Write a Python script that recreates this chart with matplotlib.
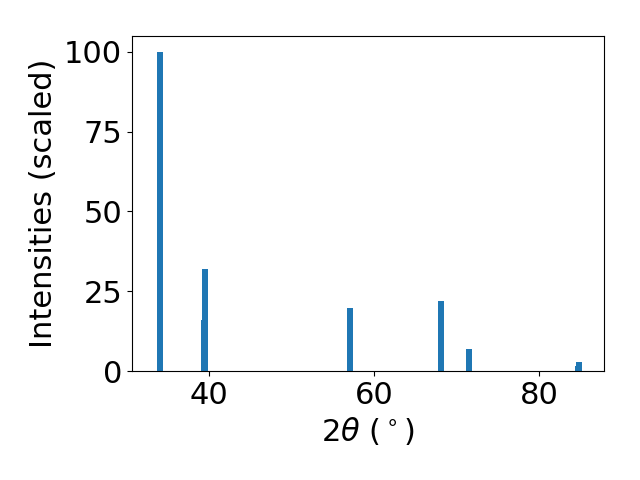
import matplotlib
matplotlib.use("Agg")
import matplotlib.pyplot as plt

# положения пиков и интенсивности
two_theta = [34.1, 39.35, 39.52, 57.03, 68.06, 71.5, 84.72, 84.85]
intensities = [100.0, 16.0, 32.0, 19.7, 21.9, 6.9, 1.6, 2.8]

fig = plt.figure(figsize=(6.4, 4.8), dpi=100)
ax = fig.add_subplot(111)
ax.bar(two_theta, intensities, width=0.73)

ax.set_xlabel(r'$2\theta$ ($^\circ$)', fontsize=22)
ax.set_ylabel('Intensities (scaled)', fontsize=22)
ax.tick_params(labelsize=22)
ax.set_xticks([40, 60, 80])
ax.set_yticks([0, 25, 50, 75, 100])
ax.set_xlim(30.63, 87.87)

fig.subplots_adjust(left=0.206, right=0.944, top=0.925, bottom=0.227)
fig.savefig('out.png')
